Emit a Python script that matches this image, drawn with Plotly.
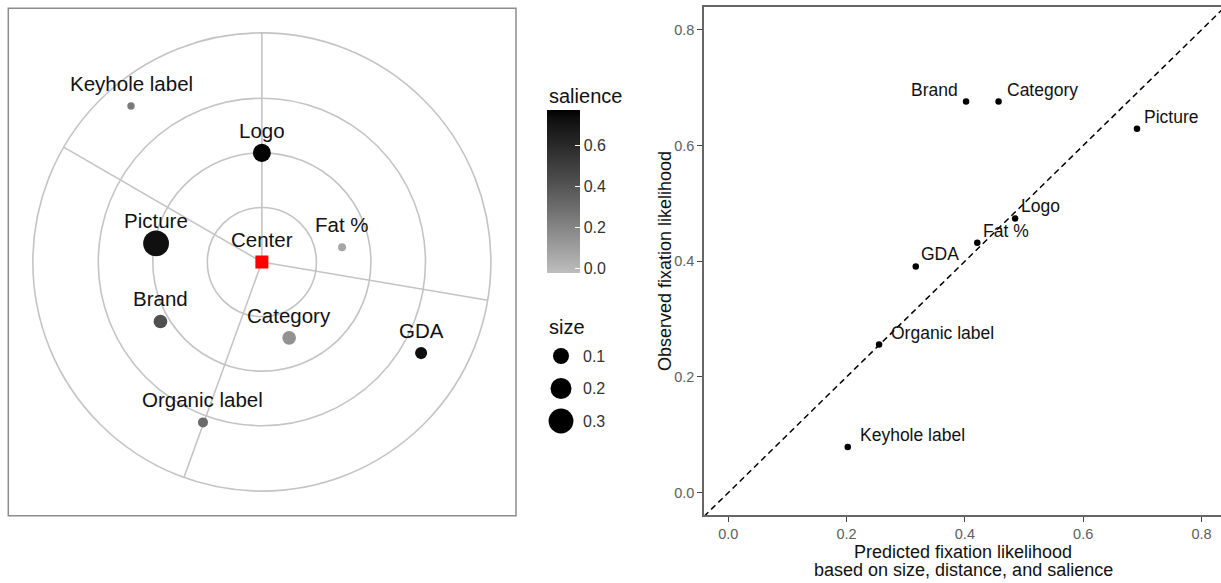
import numpy as np
import plotly.graph_objects as go

W, H = 1221, 583

# ---------------- data: left panel (package layout) ----------------
elements = ["Keyhole label", "Logo", "Picture", "Fat %", "Brand", "Category", "GDA", "Organic label"]
pos_x = [-2.40, 0.00, -1.94, 1.47, -1.86, 0.50, 2.92, -1.08]
pos_y = [2.86, 2.00, 0.34, 0.27, -1.09, -1.39, -1.67, -2.94]
size_vals = [0.008, 0.136, 0.33, 0.011, 0.065, 0.065, 0.045, 0.025]
salience = [0.24, 0.76, 0.72, 0.07, 0.42, 0.15, 0.73, 0.31]
center_label = ["Center"]
center_x = [0.0]
center_y = [0.0]
ring_radii = [1.0, 2.0, 3.0, 4.2]
sector_angles = [90.0, 149.9, -9.6, -109.9]
salience_ticks = [0.0, 0.2, 0.4, 0.6]
size_breaks = [0.1, 0.2, 0.3]

# ---------------- data: right panel (predicted vs observed) ----------------
pred_labels = ["Brand", "Category", "Picture", "Logo", "Fat %", "GDA", "Organic label", "Keyhole label"]
predicted = [0.402, 0.457, 0.691, 0.485, 0.421, 0.317, 0.255, 0.202]
observed = [0.676, 0.676, 0.629, 0.474, 0.432, 0.391, 0.256, 0.079]
axis_ticks = [0.0, 0.2, 0.4, 0.6, 0.8]
x_title_lines = ["Predicted fixation likelihood", "based on size, distance, and salience"]
y_title = "Observed fixation likelihood"

FONT = "Arial, 'Liberation Sans', sans-serif"


def diam(s):
    return [4 + 38 * np.sqrt(v) for v in s]


# grey -> black colour scale interpolated in CIE L*
def srgb_to_L(v):
    c = v / 255
    Y = c / 12.92 if c <= 0.04045 else ((c + 0.055) / 1.055) ** 2.4
    return 116 * Y ** (1 / 3) - 16 if Y > 0.008856 else 903.3 * Y


def L_to_grey(L):
    fy = (L + 16) / 116
    Y = fy ** 3 if fy ** 3 > 0.008856 else L / 903.3
    c = 12.92 * Y if Y <= 0.0031308 else 1.055 * Y ** (1 / 2.4) - 0.055
    g = int(round(255 * min(max(c, 0), 1)))
    return f"rgb({g},{g},{g})"


L0 = srgb_to_L(190)
colorscale = [[t, L_to_grey(L0 * (1 - t))] for t in np.linspace(0, 1, 21)]
CMIN, CMAX = -0.02, 0.77

fig = go.Figure()

# left panel points
fig.add_trace(go.Scatter(
    x=pos_x, y=pos_y, mode="markers", xaxis="x", yaxis="y", cliponaxis=False,
    marker=dict(size=diam(size_vals), color=salience, colorscale=colorscale,
                cmin=CMIN, cmax=CMAX, line=dict(width=0), opacity=1,
                showscale=True,
                colorbar=dict(x=547.3 / W, xanchor="left", y=(H - 191.5) / H, yanchor="middle",
                              len=163, lenmode="pixels", thickness=33, thicknessmode="pixels",
                              xpad=0, ypad=0, outlinewidth=0,
                              tickvals=salience_ticks, ticktext=[f"{v:.1f}" for v in salience_ticks],
                              ticks="inside", ticklen=5, tickcolor="white", tickwidth=1,
                              tickfont=dict(size=16, color="#333333", family=FONT),
                              title=dict(text=""))),
    showlegend=False, hoverinfo="text", text=elements))

# center marker
fig.add_trace(go.Scatter(
    x=center_x, y=center_y, mode="markers", xaxis="x", yaxis="y",
    marker=dict(symbol="square", size=13, color="#ff0000", line=dict(width=0), opacity=1),
    showlegend=False))

# size legend keys
fig.add_trace(go.Scatter(
    x=[0] * len(size_breaks), y=list(range(len(size_breaks))), mode="markers",
    xaxis="x3", yaxis="y3", cliponaxis=False,
    marker=dict(size=diam(size_breaks), color="#000000", line=dict(width=0), opacity=1),
    showlegend=False, hoverinfo="skip"))

# right panel identity line
lo, hi = -0.041, 0.845
fig.add_trace(go.Scatter(
    x=[lo, hi], y=[lo, hi], mode="lines", xaxis="x2", yaxis="y2",
    line=dict(color="black", width=1.5, dash="6px,4px"),
    showlegend=False, hoverinfo="skip"))

# right panel points
fig.add_trace(go.Scatter(
    x=predicted, y=observed, mode="markers", xaxis="x2", yaxis="y2",
    marker=dict(size=6.5, color="black", line=dict(width=0), opacity=1),
    showlegend=False, text=pred_labels, hoverinfo="text"))

shapes = []
for r in ring_radii:
    shapes.append(dict(type="circle", xref="x", yref="y", x0=-r, x1=r, y0=-r, y1=r,
                       line=dict(color="#c4c4c4", width=1.6), layer="below"))
outer = ring_radii[-1]
for a in sector_angles:
    t = np.deg2rad(a)
    shapes.append(dict(type="line", xref="x", yref="y", x0=0, y0=0,
                       x1=outer * np.cos(t), y1=outer * np.sin(t),
                       line=dict(color="#c4c4c4", width=1.6), layer="below"))
shapes.append(dict(type="rect", xref="x domain", yref="y domain", x0=0, x1=1, y0=0, y1=1,
                   line=dict(color="#8c8c8c", width=1.5)))

annotations = []
for lab, xv, yv in zip(elements + center_label, pos_x + center_x, pos_y + center_y):
    annotations.append(dict(x=xv, y=yv, xref="x", yref="y", text=lab, showarrow=False,
                            xanchor="center", yanchor="middle", yshift=22.5,
                            font=dict(size=20.5, color="#111111", family=FONT)))

# right labels: anchor side and horizontal offset (px)
label_side = {"Brand": ("right", -6), "Category": ("left", 6), "Picture": ("left", 5),
              "Logo": ("left", 4), "Fat %": ("left", 4), "GDA": ("left", 3),
              "Organic label": ("left", 10), "Keyhole label": ("left", 10)}
for lab, xv, yv in zip(pred_labels, predicted, observed):
    side, dx = label_side[lab]
    annotations.append(dict(x=xv, y=yv, xref="x2", yref="y2", text=lab, showarrow=False,
                            xanchor=side, yanchor="middle", xshift=dx, yshift=12,
                            font=dict(size=17.5, color="#111111", family=FONT)))

# legend titles and size labels
annotations.append(dict(x=547 / W, y=(H - 96) / H, xref="paper", yref="paper", text="salience",
                        showarrow=False, xanchor="left", yanchor="middle",
                        font=dict(size=20, color="#111111", family=FONT)))
annotations.append(dict(x=547 / W, y=(H - 327) / H, xref="paper", yref="paper", text="size",
                        showarrow=False, xanchor="left", yanchor="middle",
                        font=dict(size=20, color="#111111", family=FONT)))
for i, b in enumerate(size_breaks):
    annotations.append(dict(x=0, y=i, xref="x3", yref="y3", text=f"{b:.1f}", showarrow=False,
                            xanchor="left", yanchor="middle", xshift=20,
                            font=dict(size=16, color="#333333", family=FONT)))

# axis titles of right panel
for line, ypx in zip(x_title_lines, [551.5, 570.0]):
    annotations.append(dict(x=963 / W, y=(H - ypx) / H, xref="paper", yref="paper",
                            text=line, showarrow=False, xanchor="center", yanchor="middle",
                            font=dict(size=18, color="#111111", family=FONT)))
annotations.append(dict(x=665 / W, y=(H - 261) / H, xref="paper", yref="paper",
                        text=y_title, textangle=-90,
                        showarrow=False, xanchor="center", yanchor="middle",
                        font=dict(size=18, color="#111111", family=FONT)))

hidden = dict(visible=False, showgrid=False, zeroline=False, showticklabels=False, fixedrange=True)

fig.update_layout(
    width=W, height=H, margin=dict(l=0, r=0, t=0, b=0),
    paper_bgcolor="white", plot_bgcolor="white",
    font=dict(family=FONT),
    xaxis=dict(domain=[8.3 / W, 516 / W], range=[-4.65, 4.66], **hidden),
    yaxis=dict(domain=[(H - 515.7) / H, (H - 8.3) / H], range=[-4.65, 4.65], **hidden),
    xaxis3=dict(domain=[551 / W, 571 / W], range=[-1, 1], **hidden),
    yaxis3=dict(domain=[(H - 437.25) / H, (H - 339.75) / H], range=[2.5, -0.5], **hidden),
    xaxis2=dict(domain=[704 / W, 1.0], range=[-0.041, 0.833], anchor="y2",
                tickvals=axis_ticks, ticktext=[f"{v:.1f}" for v in axis_ticks],
                showgrid=False, zeroline=False, showline=True, mirror=True,
                linecolor="#666666", linewidth=1.5, ticks="outside", ticklen=5,
                tickcolor="#444444", tickwidth=1.2,
                tickfont=dict(size=14.5, color="#606060", family=FONT)),
    yaxis2=dict(domain=[(H - 515) / H, (H - 6.7) / H], range=[-0.0386, 0.84], anchor="x2",
                tickvals=axis_ticks, ticktext=[f"{v:.1f}" for v in axis_ticks],
                showgrid=False, zeroline=False, showline=True,
                linecolor="#666666", linewidth=1.5, ticks="outside", ticklen=5,
                tickcolor="#444444", tickwidth=1.2,
                tickfont=dict(size=14.5, color="#606060", family=FONT)),
    shapes=shapes, annotations=annotations,
)

fig.write_html("out.html", config={"displayModeBar": False},
               post_script="document.body.style.margin='0';document.body.style.overflow='hidden';")
